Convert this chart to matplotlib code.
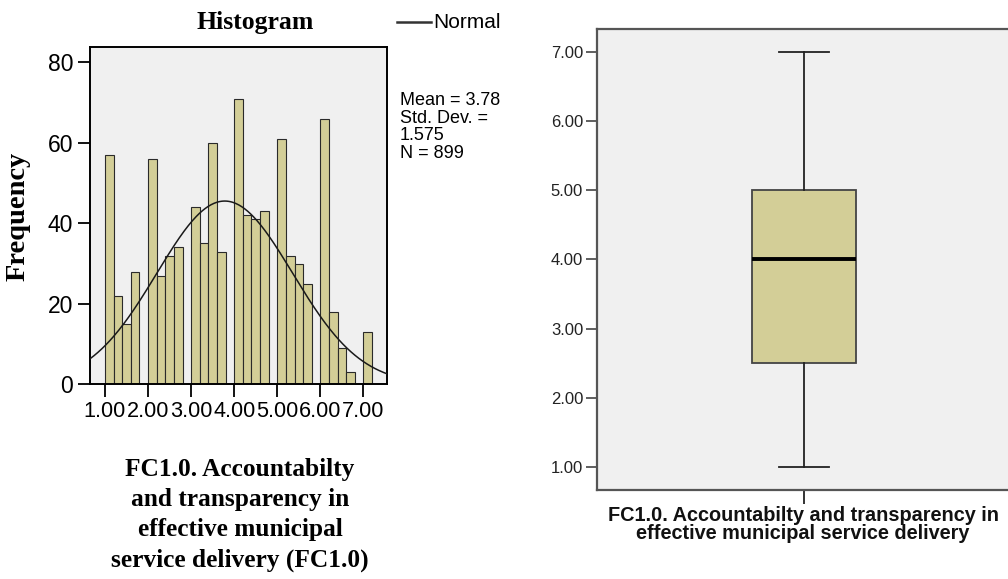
import numpy as np
import matplotlib
matplotlib.use("Agg")
import matplotlib.pyplot as plt

# ---- data ----
bin_starts = [1.0, 1.2, 1.4, 1.6, 2.0, 2.2, 2.4, 2.6, 3.0, 3.2, 3.4, 3.6,
              4.0, 4.2, 4.4, 4.6, 5.0, 5.2, 5.4, 5.6, 6.0, 6.2, 6.4, 6.6, 7.0]
frequencies = [57, 22, 15, 28, 56, 27, 32, 34, 44, 35, 60, 33,
               71, 42, 41, 43, 61, 32, 30, 25, 66, 18, 9, 3, 13]
bin_width = 0.2
mean_val = 3.78
sd_val = 1.575
n_val = 899
hist_xticks = [1.0, 2.0, 3.0, 4.0, 5.0, 6.0, 7.0]
hist_yticks = [0, 20, 40, 60, 80]

box_min = 1.0
box_q1 = 2.5
box_median = 4.0
box_q3 = 5.0
box_max = 7.0
box_yticks = [1.0, 2.0, 3.0, 4.0, 5.0, 6.0, 7.0]

hist_xlabel = "FC1.0. Accountabilty\nand transparency in\neffective municipal\nservice delivery (FC1.0)"
box_xlabel = "FC1.0. Accountabilty and transparency in\neffective municipal service delivery"

# ---- styling ----
W, H = 1008, 579
fill = "#D3CE97"
bg = "#F0F0F0"
serif = "Liberation Serif"
sans = "Liberation Sans"

fig = plt.figure(figsize=(W / 100, H / 100), dpi=100)
fig.patch.set_facecolor("white")

def rect(l, t, r, b):
    return [l / W, 1 - b / H, (r - l) / W, (b - t) / H]

# ---- histogram ----
ax = fig.add_axes(rect(90, 46.7, 386.7, 384.3))
ax.set_facecolor(bg)
ax.bar(bin_starts, frequencies, width=bin_width, align="edge",
       color=fill, edgecolor="#2a2a2a", linewidth=0.8, zorder=2)
ax.set_xlim(0.652, 7.54)
ax.set_ylim(0, 83.9)
xs = np.linspace(0.652, 7.54, 300)
ys = n_val * bin_width / (sd_val * np.sqrt(2 * np.pi)) * np.exp(-0.5 * ((xs - mean_val) / sd_val) ** 2)
ax.plot(xs, ys, color="#1a1a1a", lw=1.1, zorder=3)
ax.set_xticks(hist_xticks)
ax.set_xticklabels([f"{v:.2f}" for v in hist_xticks], fontfamily=sans, fontsize=15.6)
ax.set_yticks(hist_yticks)
ax.set_yticklabels([str(v) for v in hist_yticks], fontfamily=sans, fontsize=16.5)
ax.tick_params(axis="both", direction="out", length=9, width=1.3, colors="black", pad=3)
for s in ax.spines.values():
    s.set_linewidth(1.4)
    s.set_color("black")

fig.text(18 / W, 1 - 216 / H, "Frequency", fontfamily=serif, fontweight="bold",
         fontsize=20.5, ha="center", va="center", rotation=90)
fig.text(255 / W, 1 - 22 / H, "Histogram", fontfamily=serif, fontweight="bold",
         fontsize=18.5, ha="center", va="center")
fig.text(240 / W, 1 - 458 / H, hist_xlabel, fontfamily=serif, fontweight="bold",
         fontsize=18.3, ha="center", va="top", linespacing=1.4)

# legend
fig.add_artist(plt.Line2D([397 / W, 431 / W], [1 - 22 / H, 1 - 22 / H], color="#333333", lw=1.8))
fig.text(433 / W, 1 - 23 / H, "Normal", fontfamily=sans, fontsize=15, ha="left", va="center")
fig.text(400 / W, 1 - 92 / H, f"Mean = {mean_val:.2f}\nStd. Dev. =\n{sd_val:.3f}\nN = {n_val}",
         fontfamily=sans, fontsize=13, ha="left", va="top", linespacing=1.05)

# ---- boxplot ----
bx = fig.add_axes(rect(597, 29, 1011, 490))
bx.set_facecolor(bg)
stats = [dict(whislo=box_min, q1=box_q1, med=box_median, q3=box_q3, whishi=box_max, fliers=[])]
bx.bxp(stats, positions=[1], widths=0.25, capwidths=0.123, patch_artist=True, showfliers=False,
       boxprops=dict(facecolor=fill, edgecolor="#444444", linewidth=1.3),
       medianprops=dict(color="black", linewidth=2.8),
       whiskerprops=dict(color="#222222", linewidth=1.3),
       capprops=dict(color="#222222", linewidth=1.3))
bx.set_xlim(0.5, 1.5)
bx.set_ylim(0.664, 7.333)
bx.set_yticks(box_yticks)
bx.set_yticklabels([f"{v:.2f}" for v in box_yticks], fontfamily=sans, fontsize=12, color="#222222")
bx.set_xticks([1])
bx.set_xticklabels([""])
bx.tick_params(axis="y", direction="out", length=8, width=1.2, color="#444444", pad=2)
bx.tick_params(axis="x", direction="out", length=10, width=1.4, color="#333333", pad=0)
for s in bx.spines.values():
    s.set_linewidth(1.6)
    s.set_color("#555555")
fig.text(803 / W, 1 - 506 / H, box_xlabel, fontfamily=sans, fontweight="bold",
         fontsize=14.3, ha="center", va="top", linespacing=0.95, color="#111111")

fig.savefig("out.png", dpi=100, facecolor="white")
